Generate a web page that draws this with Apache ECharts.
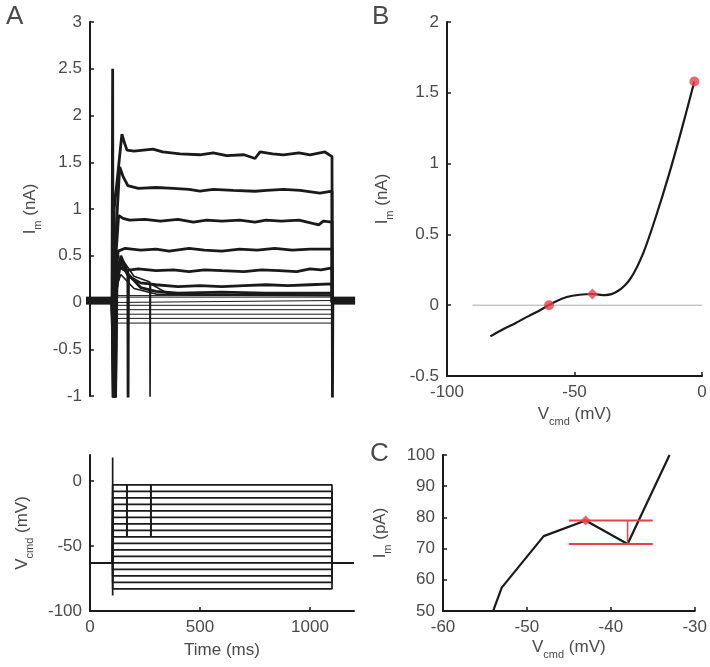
<!DOCTYPE html>
<html><head><meta charset="utf-8">
<script src="https://cdn.jsdelivr.net/npm/echarts@6/dist/echarts.min.js"></script>
<style>html,body{margin:0;padding:0;background:#fff}#c{width:710px;height:667px}</style>
</head><body><div id="c"></div>
<script>
// ---------- data ----------
const stepV = [-83,-78,-73,-68,-63,-58,-53,-48,-43,-38,-33,-28,-23,-18,-13,-8,-3];
const holdV = -63;
const stepOn = 103, stepOff = 1100, tEnd = 1200;
const steadyI = [-0.22,-0.17,-0.125,-0.077,-0.03,0.021,0.0575,0.074,0.079,0.0715,0.1,0.19,0.37,0.63,0.92,1.24,1.58];

// current traces (t ms, I nA) for depolarised steps
const trM43 = [[0,0],[100,0],[104,-1.1],[110,0.1],[140,0.3],[200,0.15],[300,0.09],[1100,0.079],[1101,0],[1200,0]];
const trM38 = [[0,0],[100,0],[118,-1.1],[125,0.3],[150,0.45],[200,0.28],[272,0.22],[273,-1.1],[275,0.2],[350,0.1],[450,0.08],[1100,0.0715],[1101,0],[1200,0]];
const trM33 = [[0,0],[100,0],[116,-1.1],[122,0.15],[140,0.5],[172,0.32],[173,-1.1],[175,0.3],[230,0.16],[300,0.12],[400,0.1],[600,0.11],[800,0.1],[1000,0.1],[1100,0.1],[1101,0],[1200,0]];
const trM28 = [[0,0],[100,0],[114,-1.1],[120,0.2],[135,0.45],[175,0.28],[230,0.21],[300,0.19],[400,0.17],[500,0.18],[600,0.17],[700,0.18],[800,0.19],[900,0.18],[1000,0.19],[1100,0.2],[1101,0],[1200,0]];
const trM23 = [[0,0],[100,0],[112,-1.1],[118,0.1],[135,0.38],[160,0.34],[220,0.36],[300,0.34],[380,0.35],[450,0.33],[520,0.35],[600,0.34],[700,0.33],[780,0.35],[860,0.34],[940,0.33],[1000,0.36],[1050,0.35],[1100,0.37],[1101,0],[1200,0]];
const trM18 = [[0,0],[100,0],[110,-1.1],[115,0.2],[128,0.55],[160,0.58],[230,0.56],[300,0.57],[360,0.55],[450,0.58],[520,0.56],[600,0.55],[680,0.57],[760,0.56],[840,0.58],[920,0.56],[1000,0.57],[1100,0.57],[1101,0],[1200,0]];
const trM13 = [[0,0],[100,0],[108,-1.1],[112,0.3],[130,0.93],[150,0.9],[180,0.88],[250,0.89],[320,0.87],[400,0.89],[470,0.86],[530,0.88],[600,0.87],[680,0.88],[750,0.86],[800,0.88],[870,0.87],[950,0.88],[1040,0.83],[1060,0.87],[1100,0.86],[1101,0],[1200,0]];
const trM8 = [[0,0],[100,0],[106,-1.1],[110,0.4],[135,1.45],[150,1.35],[172,1.25],[220,1.22],[300,1.23],[379,1.22],[450,1.21],[500,1.19],[560,1.21],[650,1.2],[750,1.19],[803,1.2],[880,1.21],[955,1.2],[1045,1.17],[1100,1.19],[1101,0],[1200,0]];
const trM3 = [[0,0],[100,0],[103,2.5],[105,-1.1],[110,1.0],[145,1.8],[155,1.72],[168,1.63],[200,1.62],[286,1.64],[330,1.61],[409,1.59],[500,1.58],[560,1.6],[621,1.57],[700,1.58],[750,1.54],[773,1.61],[830,1.59],[879,1.58],[950,1.6],[1000,1.58],[1068,1.61],[1100,1.56],[1102,-1.1],[1104,0],[1200,0]];
const bandLevel = 0.02;
const bandSpans = [[-20,100],[1100,1205]];

// Vcmd extras
const vSpike = [[103,-88],[103,18]];
const escapeTimes = [168, 277];
const escapeRange = [-3, -43];

// panel B (I-V, nA)
const bV = [-83,-78,-73,-68,-63,-58,-53,-48,-43,-38,-33,-28,-23,-18,-13,-8,-3];
const bI = [-0.22,-0.17,-0.125,-0.077,-0.03,0.021,0.0575,0.074,0.079,0.0715,0.1,0.19,0.37,0.63,0.92,1.24,1.58];
const bZeroLine = [[-90,0],[0,0]];
const bMarksCircle = [[-60,0],[-3,1.58]];
const bMarksDiamond = [[-43,0.079]];

// panel C (I-V, pA)
const cV = [-58,-53,-48,-43,-38,-33];
const cI = [21,57.5,74,79,71.5,100];
const cHigh = 79, cLow = 71.5, cSpan = [-45,-35], cDropV = -38;
const cMark = [[-43,79]];

// ---------- chart ----------
const FONT = 'Liberation Sans';
const TXT = '#4a4a4a';
const AX = '#1a1a1a';
const RED = '#e8404b';
const FS = 17;

function richName(main, sub, rest){
  return '{m|' + main + '}{s|' + sub + '}{m|' + rest + '}';
}
const nameRich = {
  m:{fontSize:FS,fontFamily:FONT,color:TXT,lineHeight:26,verticalAlign:'middle'},
  s:{fontSize:11,fontFamily:FONT,color:TXT,lineHeight:26,verticalAlign:'bottom'}
};
const plainFmt = v => String(v);
function axisCommon(extra){
  return Object.assign({
    type:'value',
    axisLine:{show:true,onZero:false,lineStyle:{color:AX,width:2}},
    axisTick:{show:true,inside:true,length:4,lineStyle:{color:AX,width:1.5}},
    axisLabel:{fontSize:FS,fontFamily:FONT,color:TXT,margin:8,formatter:plainFmt},
    splitLine:{show:false}
  }, extra);
}

const series = [];
function line(xi, data, w, color, opts){
  series.push(Object.assign({type:'line',xAxisIndex:xi,yAxisIndex:xi,data:data,showSymbol:false,
    symbol:'none',lineStyle:{width:w,color:color||AX},silent:true,animation:false}, opts||{}));
}

// Panel A top: band
bandSpans.forEach(s => line(0, [[s[0],bandLevel],[s[1],bandLevel]], 8, AX, {clip:false}));
// flat traces for hyperpolarised / small steps
for (let k = 0; k < 8; k++) {
  const lv = steadyI[k];
  line(0, [[0,0],[stepOn-3,0],[stepOn+1,lv],[stepOff,lv],[stepOff+1,0],[tEnd,0]], 1, AX);
}
line(0, trM43, 1.6);
line(0, trM38, 1.6);
[trM33,trM28,trM23,trM18,trM13,trM8,trM3].forEach(t => line(0, t, 2.8));

// Panel A bottom: Vcmd
stepV.forEach(v => line(1, [[0,holdV],[stepOn,holdV],[stepOn,v],[stepOff,v],[stepOff,holdV],[tEnd,holdV]], 1.7));
line(1, vSpike, 1.7);
escapeTimes.forEach(t => line(1, [[t,escapeRange[0]],[t,escapeRange[1]]], 2));

// Panel B
line(2, bZeroLine, 1, '#aaaaaa');
line(2, bV.map((v,i)=>[v,bI[i]]), 2.2, AX, {smooth:0.3});
series.push({type:'scatter',xAxisIndex:2,yAxisIndex:2,data:bMarksCircle,symbol:'circle',symbolSize:10,itemStyle:{color:RED},animation:false,z:5});
series.push({type:'scatter',xAxisIndex:2,yAxisIndex:2,data:bMarksDiamond,symbol:'diamond',symbolSize:11,itemStyle:{color:RED},animation:false,z:5});

// Panel C
line(3, cV.map((v,i)=>[v,cI[i]]), 2.2, AX);
line(3, [[cSpan[0],cHigh],[cSpan[1],cHigh]], 2, RED);
line(3, [[cSpan[0],cLow],[cSpan[1],cLow]], 2, RED);
line(3, [[cDropV,cHigh],[cDropV,cLow]], 1.5, RED);
series.push({type:'scatter',xAxisIndex:3,yAxisIndex:3,data:cMark,symbol:'diamond',symbolSize:10,itemStyle:{color:RED},animation:false,z:5});

const option = {
  backgroundColor:'#fff',
  animation:false,
  grid:[
    {left:90,top:22,width:264,height:374},
    {left:90,top:455,width:264,height:156},
    {left:447,top:22,width:255,height:354},
    {left:443,top:455,width:260,height:156}
  ],
  xAxis:[
    axisCommon({gridIndex:0,min:0,max:1200,show:false}),
    axisCommon({gridIndex:1,min:0,max:1200,interval:500,
      axisLabel:{fontSize:FS,fontFamily:FONT,color:TXT,margin:8,formatter:plainFmt,customValues:[0,500,1000]},
      axisTick:{show:true,inside:true,length:4,lineStyle:{color:AX,width:1.5},customValues:[0,500,1000]},
      name:'Time (ms)',nameLocation:'middle',nameGap:24,nameTextStyle:{fontSize:FS,fontFamily:FONT,color:TXT,lineHeight:26}}),
    axisCommon({gridIndex:2,min:-100,max:0,interval:50,
      name:richName('V','cmd',' (mV)'),nameLocation:'middle',nameGap:18,nameTextStyle:{rich:nameRich}}),
    axisCommon({gridIndex:3,min:-60,max:-30,interval:10,
      name:richName('V','cmd',' (mV)'),nameLocation:'middle',nameGap:23,nameTextStyle:{rich:nameRich}})
  ],
  yAxis:[
    axisCommon({gridIndex:0,min:-1,max:3,interval:0.5,
      name:richName('I','m',' (nA)'),nameLocation:'middle',nameGap:47,nameRotate:90,nameTextStyle:{rich:nameRich}}),
    axisCommon({gridIndex:1,min:-100,max:20,interval:50,
      axisLabel:{fontSize:FS,fontFamily:FONT,color:TXT,margin:8,formatter:plainFmt,customValues:[-100,-50,0]},
      axisTick:{show:true,inside:true,length:4,lineStyle:{color:AX,width:1.5},customValues:[-100,-50,0]},
      name:richName('V','cmd',' (mV)'),nameLocation:'middle',nameGap:55,nameRotate:90,nameTextStyle:{rich:nameRich}}),
    axisCommon({gridIndex:2,min:-0.5,max:2,interval:0.5,
      name:richName('I','m',' (nA)'),nameLocation:'middle',nameGap:52,nameRotate:90,nameTextStyle:{rich:nameRich}}),
    axisCommon({gridIndex:3,min:50,max:100,interval:10,
      name:richName('I','m',' (pA)'),nameLocation:'middle',nameGap:50,nameRotate:90,nameTextStyle:{rich:nameRich}})
  ],
  graphic:[
    {type:'text',left:6,top:4,style:{text:'A',font:'26px "Liberation Sans"',fill:TXT}},
    {type:'text',left:372,top:4,style:{text:'B',font:'26px "Liberation Sans"',fill:TXT}},
    {type:'text',left:370,top:441,style:{text:'C',font:'26px "Liberation Sans"',fill:TXT}}
  ],
  series:series
};
const chart = echarts.init(document.getElementById('c'), null, {renderer:'canvas'});
chart.setOption(option);
</script></body></html>
